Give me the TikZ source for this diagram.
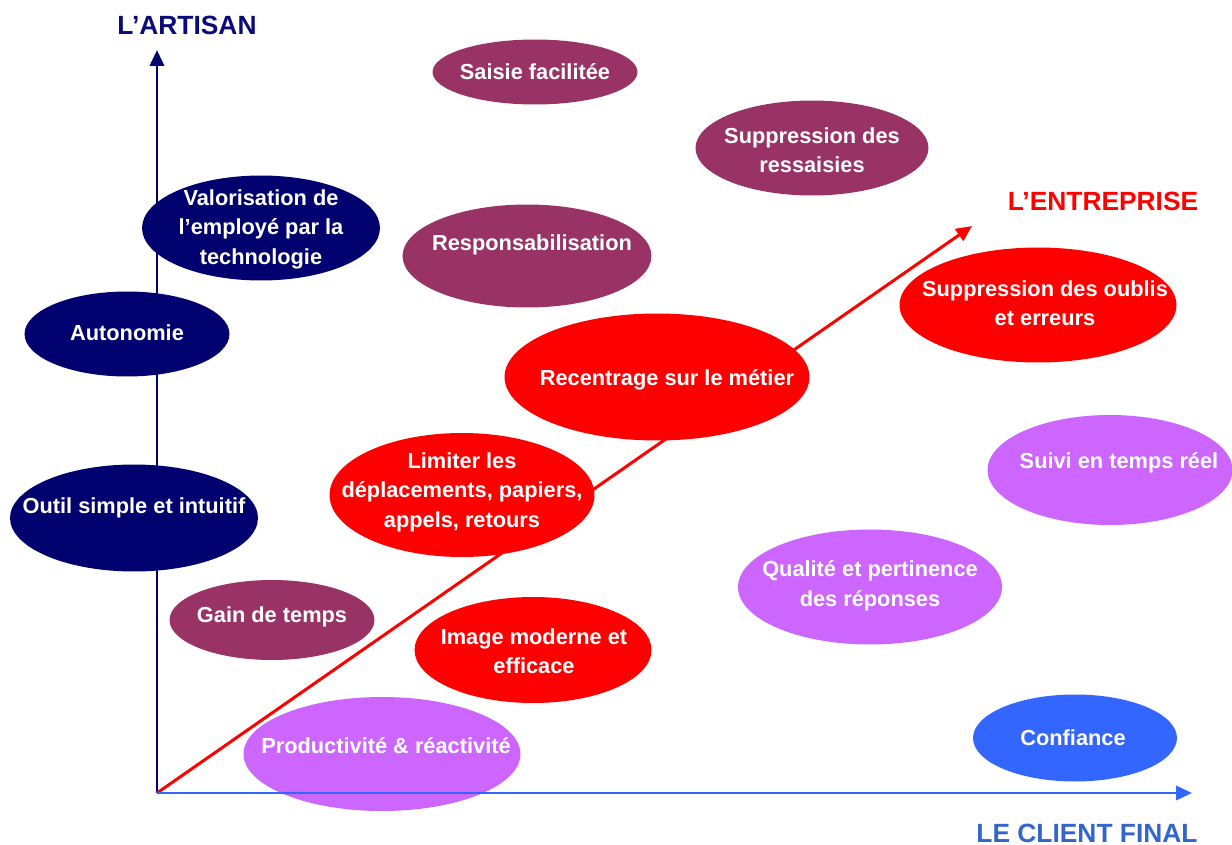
\documentclass[tikz,border=0pt]{standalone}
\usepackage{fontspec}
\setmainfont{Liberation Sans}
\usetikzlibrary{shapes.geometric, arrows.meta}
\definecolor{navyB}{RGB}{0,0,110}
\definecolor{navyT}{RGB}{10,10,120}
\definecolor{plum}{RGB}{153,51,102}
\definecolor{lilas}{RGB}{204,102,255}
\definecolor{rouge}{RGB}{255,0,0}
\definecolor{bleu}{RGB}{51,102,255}
\definecolor{bleuT}{RGB}{51,102,204}

\begin{document}
\begin{tikzpicture}
[x=0.02cm, y=-0.02cm,
 every node/.style={align=center},
 bulle/.style={ellipse, inner sep=0pt},
 texte/.style={text=white, font=\bfseries\fontsize{12.4}{16.8}\selectfont},
 axe/.style={font=\bfseries\fontsize{15}{18}\selectfont},
 fleche/.style={line width=1.7pt, -{Triangle[length=9pt, width=8pt]}}
]
\useasboundingbox (0,0) rectangle (1232,845);
\coordinate (O)    at (157, 793);
\coordinate (yEnd) at (157,  50);
\coordinate (xEnd) at (1192, 793);
\coordinate (dEnd) at (972, 226);
\draw[fleche, navyB] (O) -- (yEnd);
\draw[fleche, rouge] (O) -- (dEnd);
% bulles
\node[bulle, fill=plum, minimum width=4.1cm, minimum height=1.3cm]
  (saisie) at (535, 72) {};
\node[bulle, fill=plum, minimum width=4.66cm, minimum height=1.9cm]
  (ressaisie) at (812, 148) {};
\node[bulle, fill=navyB, minimum width=4.76cm, minimum height=2.1cm]
  (valo) at (261, 228) {};
\node[bulle, fill=plum, minimum width=4.98cm, minimum height=2.06cm]
  (respo) at (527, 256) {};
\node[bulle, fill=navyB, minimum width=4.1cm, minimum height=1.7cm]
  (auto) at (127, 334) {};
\node[bulle, fill=rouge, minimum width=5.54cm, minimum height=2.3cm]
  (oublis) at (1038, 305) {};
\node[bulle, fill=rouge, minimum width=6.1cm, minimum height=2.54cm]
  (recentrage) at (657, 377) {};
\node[bulle, fill=rouge, minimum width=5.3cm, minimum height=2.48cm]
  (limiter) at (462, 495) {};
\node[bulle, fill=lilas, minimum width=4.9cm, minimum height=2.2cm]
  (suivi) at (1110, 470) {};
\node[bulle, fill=navyB, minimum width=4.96cm, minimum height=2.14cm]
  (outil) at (134, 518) {};
\node[bulle, fill=lilas, minimum width=5.28cm, minimum height=2.3cm]
  (qualite) at (870, 587) {};
\node[bulle, fill=plum, minimum width=4.1cm, minimum height=1.6cm]
  (gain) at (272, 620) {};
\node[bulle, fill=rouge, minimum width=4.74cm, minimum height=2.12cm]
  (image) at (533, 650) {};
\node[bulle, fill=lilas, minimum width=5.54cm, minimum height=2.28cm]
  (produc) at (382, 754) {};
\node[bulle, fill=bleu, minimum width=4.08cm, minimum height=1.74cm]
  (confiance) at (1075, 738) {};
\draw[fleche, bleu] (O) -- (xEnd);
% textes
\node[texte] (saisieT)     at (535,  72) {Saisie facilitée};
\node[texte] (ressaisieT)  at (812, 150) {Suppression des\\ ressaisies};
\node[texte] (valoT)       at (261, 229) {Valorisation de\\ l’employé par la\\ technologie};
\node[texte] (respoT)      at (532, 245) {Responsabilisation};
\node[texte] (autoT)       at (127, 333) {Autonomie};
\node[texte] (oublisT)     at (1045, 303) {Suppression des oublis\\ et erreurs};
\node[texte] (recentrageT) at (667, 380) {Recentrage sur le métier};
\node[texte] (limiterT)    at (462, 492) {Limiter les\\ déplacements, papiers,\\ appels, retours};
\node[texte] (suiviT)      at (1119, 463) {Suivi en temps réel};
\node[texte] (outilT)      at (134, 508) {Outil simple et intuitif};
\node[texte] (qualiteT)    at (870, 586) {Qualité et pertinence\\ des réponses};
\node[texte] (gainT)       at (272, 617) {Gain de temps};
\node[texte] (imageT)      at (534, 651) {Image moderne et\\ efficace};
\node[texte] (producT)     at (386, 746) {Productivité \& réactivité};
\node[texte] (confianceT)  at (1073, 738) {Confiance};
% axes
\node[axe, text=navyT] (artisan)    at (187,  25) {L’ARTISAN};
\node[axe, text=rouge] (entreprise) at (1103, 201) {L’ENTREPRISE};
\node[axe, text=bleuT] (client)     at (1087, 833) {LE CLIENT FINAL};
\end{tikzpicture}
\end{document}
